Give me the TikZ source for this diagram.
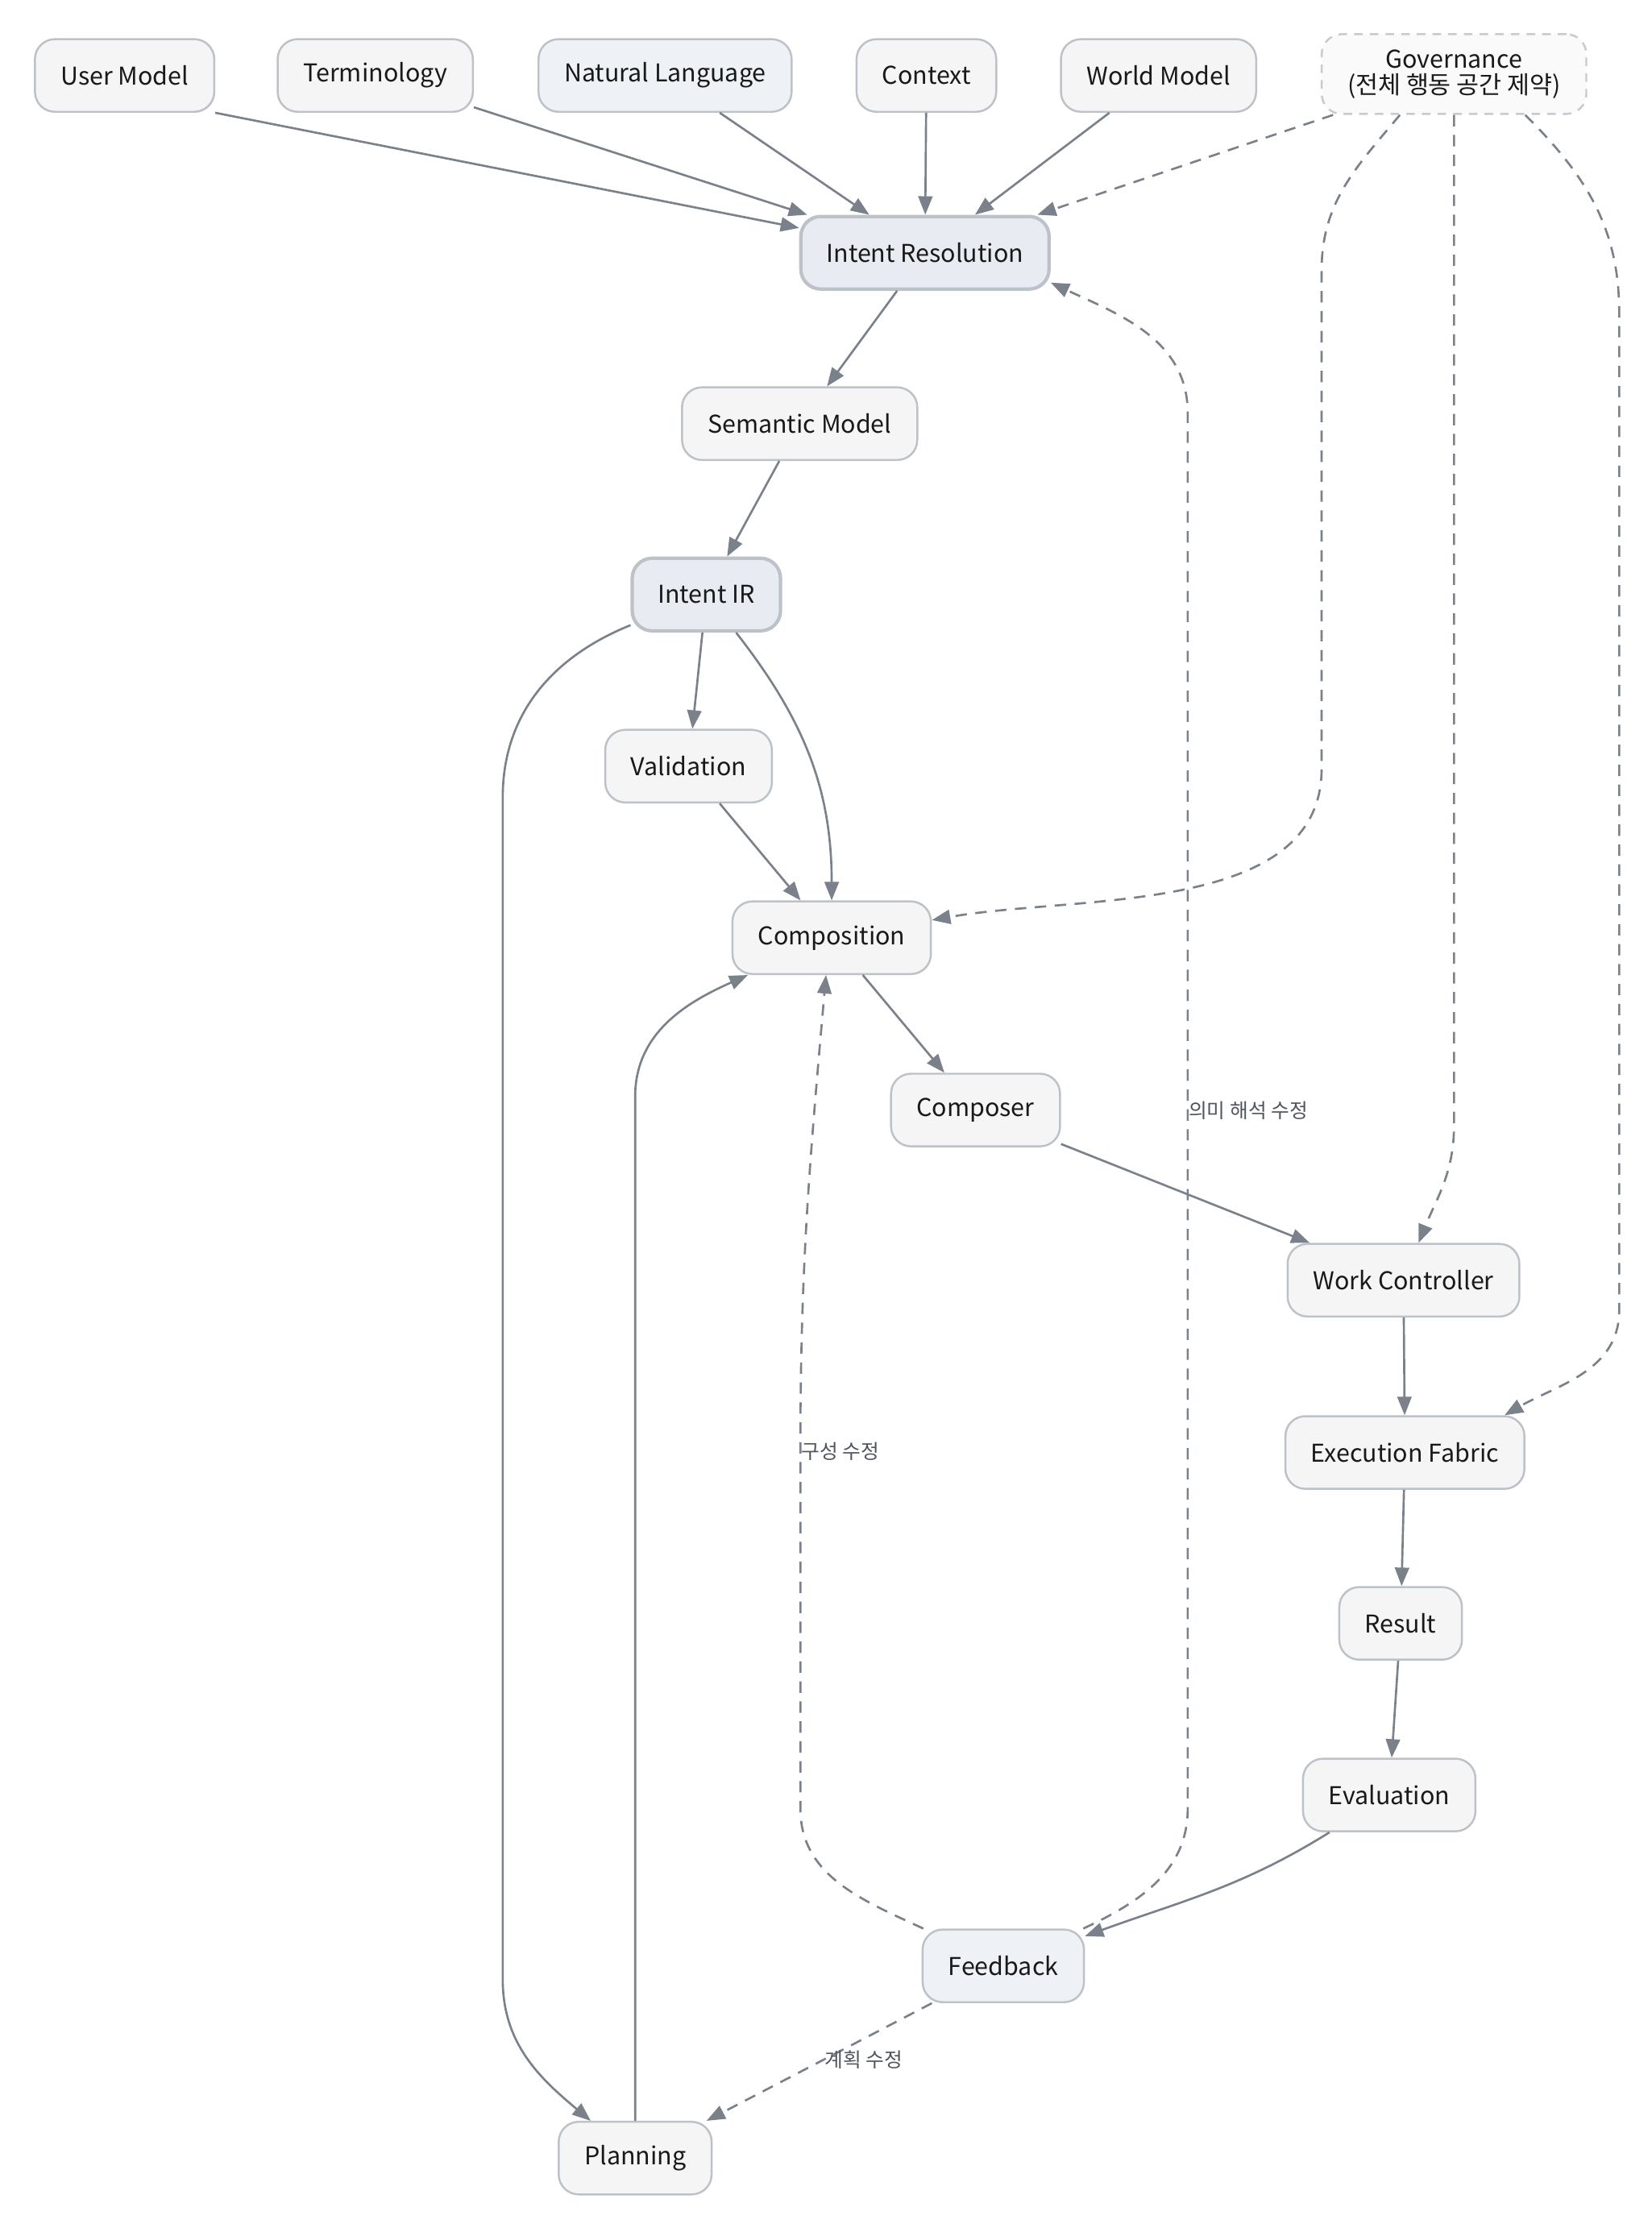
\documentclass[tikz,border=0pt]{standalone}
\usepackage{fontspec}
\setmainfont{Noto Sans CJK KR}
\usetikzlibrary{calc}
\usetikzlibrary{arrows.meta}
\definecolor{edgegray}{HTML}{7B818B}
\definecolor{boxline}{HTML}{BDC1C8}
\definecolor{boxfill}{HTML}{F5F5F5}
\definecolor{keyfill}{HTML}{E8ECF2}
\definecolor{srcfill}{HTML}{EEF2F7}
\definecolor{govfill}{HTML}{FAFAFA}
\definecolor{labelgray}{HTML}{50555D}
\def\BoxHeight{25.5pt}
\def\BoxRadius{7pt}

\begin{document}
\begin{tikzpicture}[x=0.5pt,y=0.5pt,
  box/.style={draw=boxline, fill=boxfill, line width=0.7pt, rounded corners=\BoxRadius,
    minimum height=\BoxHeight, inner xsep=9pt, text=black!90,
    font=\fontsize{8.6}{9}\selectfont},
  keybox/.style={box, fill=keyfill, line width=1.2pt},
  srcbox/.style={box, fill=srcfill},
  govbox/.style={box, fill=govfill, draw=boxline!85, dash pattern=on 3pt off 2.5pt,
    minimum height=28pt, align=center},
  flow/.style={draw=edgegray, line width=0.75pt, ->, >={Triangle[length=6.5pt,width=5pt]}},
  fbdash/.style={dash pattern=on 4pt off 3pt},
  lbl/.style={font=\fontsize{7}{7.5}\selectfont, text=labelgray, inner sep=0pt}]
  \useasboundingbox (0,0) rectangle (1160,-1564.6);
  % sources
  \node[box] (user) at (87.5,-53) {User Model};
  \node[box] (term) at (263.5,-53) {Terminology};
  \node[srcbox] (nl) at (467,-53) {Natural Language};
  \node[box] (ctx) at (650.5,-53) {Context};
  \node[box] (world) at (813.5,-53) {World Model};
  \node[govbox] (gov) at (1021,-52) {Governance\\(전체 행동 공간 제약)};
  % pipeline
  \node[keybox] (ir) at (649.5,-177.5) {Intent Resolution};
  \node[box] (sem) at (561.5,-297.5) {Semantic Model};
  \node[keybox] (iir) at (496,-417.5) {Intent IR};
  \node[box] (val) at (483.5,-538) {Validation};
  \node[box] (comp) at (584,-658.5) {Composition};
  \node[box] (cmp) at (685,-779.5) {Composer};
  \node[box] (wc) at (985.5,-899) {Work Controller};
  \node[box] (ef) at (986.5,-1020) {Execution Fabric};
  \node[box] (res) at (983.5,-1140) {Result};
  \node[box] (eval) at (975.5,-1260.5) {Evaluation};
  \node[srcbox] (fb) at (704.5,-1380.5) {Feedback};
  \node[box] (plan) at (446,-1515.5) {Planning};
  % bends
  \coordinate (g1) at (928,-190);
  \coordinate (g2) at (928,-540);
  \coordinate (g3) at (1021,-790);
  \coordinate (g4) at (1137,-220);
  \coordinate (g5) at (1137,-920);
  \coordinate (p1) at (353,-560);
  \coordinate (p2) at (353,-1390);
  \coordinate (p3) at (446,-770);
  \coordinate (f1) at (834,-1270);
  \coordinate (f2) at (834,-290);
  \coordinate (f3) at (562,-1270);
  \coordinate (f4) at (562,-1019);
  % inputs
  \draw[flow] (user.south east) -- (ir);
  \foreach \src in {term,nl,ctx,world}
    \draw[flow] (\src) -- (ir);
  % main chain
  \foreach \a/\b in {ir/sem,sem/iir,iir/val,val/comp,comp/cmp,cmp/wc,wc/ef,ef/res,res/eval}
    \draw[flow] (\a) -- (\b);
  \draw[flow] (iir) to[out=-52,in=90] (comp.north);
  \draw[flow] (iir) to[out=-158,in=90] (p1) -- (p2) to[out=-90,in=140] (plan);
  \draw[flow] (plan.north) -- (p3) to[out=90,in=-156] (comp);
  \draw[flow] (eval) to[out=-148,in=20] (fb);
  % governance
  \draw[flow,fbdash] (gov) -- (ir);
  \draw[flow,fbdash] ($(gov.south)+(-38,0)$) to[out=-130,in=90] (g1) -- (g2)
    to[out=-90,in=10,looseness=0.9] (comp);
  \draw[flow,fbdash] (gov.south) -- (g3) to[out=-90,in=68] (wc);
  \draw[flow,fbdash] ($(gov.south)+(50,0)$) to[out=-45,in=90] (g4) -- (g5)
    to[out=-90,in=30] ($(ef.north)+(70,0)$);
  % feedback
  \draw[flow,fbdash] (fb) to[out=25,in=-90] (f1) -- node[lbl,anchor=west] {의미 해석 수정} (f2)
    to[out=90,in=-25] ($(ir.east)+(0,-21)$);
  \draw[flow,fbdash] (fb) to[out=155,in=-90] (f3) -- (f4) node[lbl,anchor=west] {구성 수정}
    to[out=90,in=-95] ($(comp.south)+(-4,0)$);
  \draw[flow,fbdash] (fb) -- node[lbl,anchor=west,pos=0.48] {계획 수정} (plan);
\end{tikzpicture}
\end{document}
